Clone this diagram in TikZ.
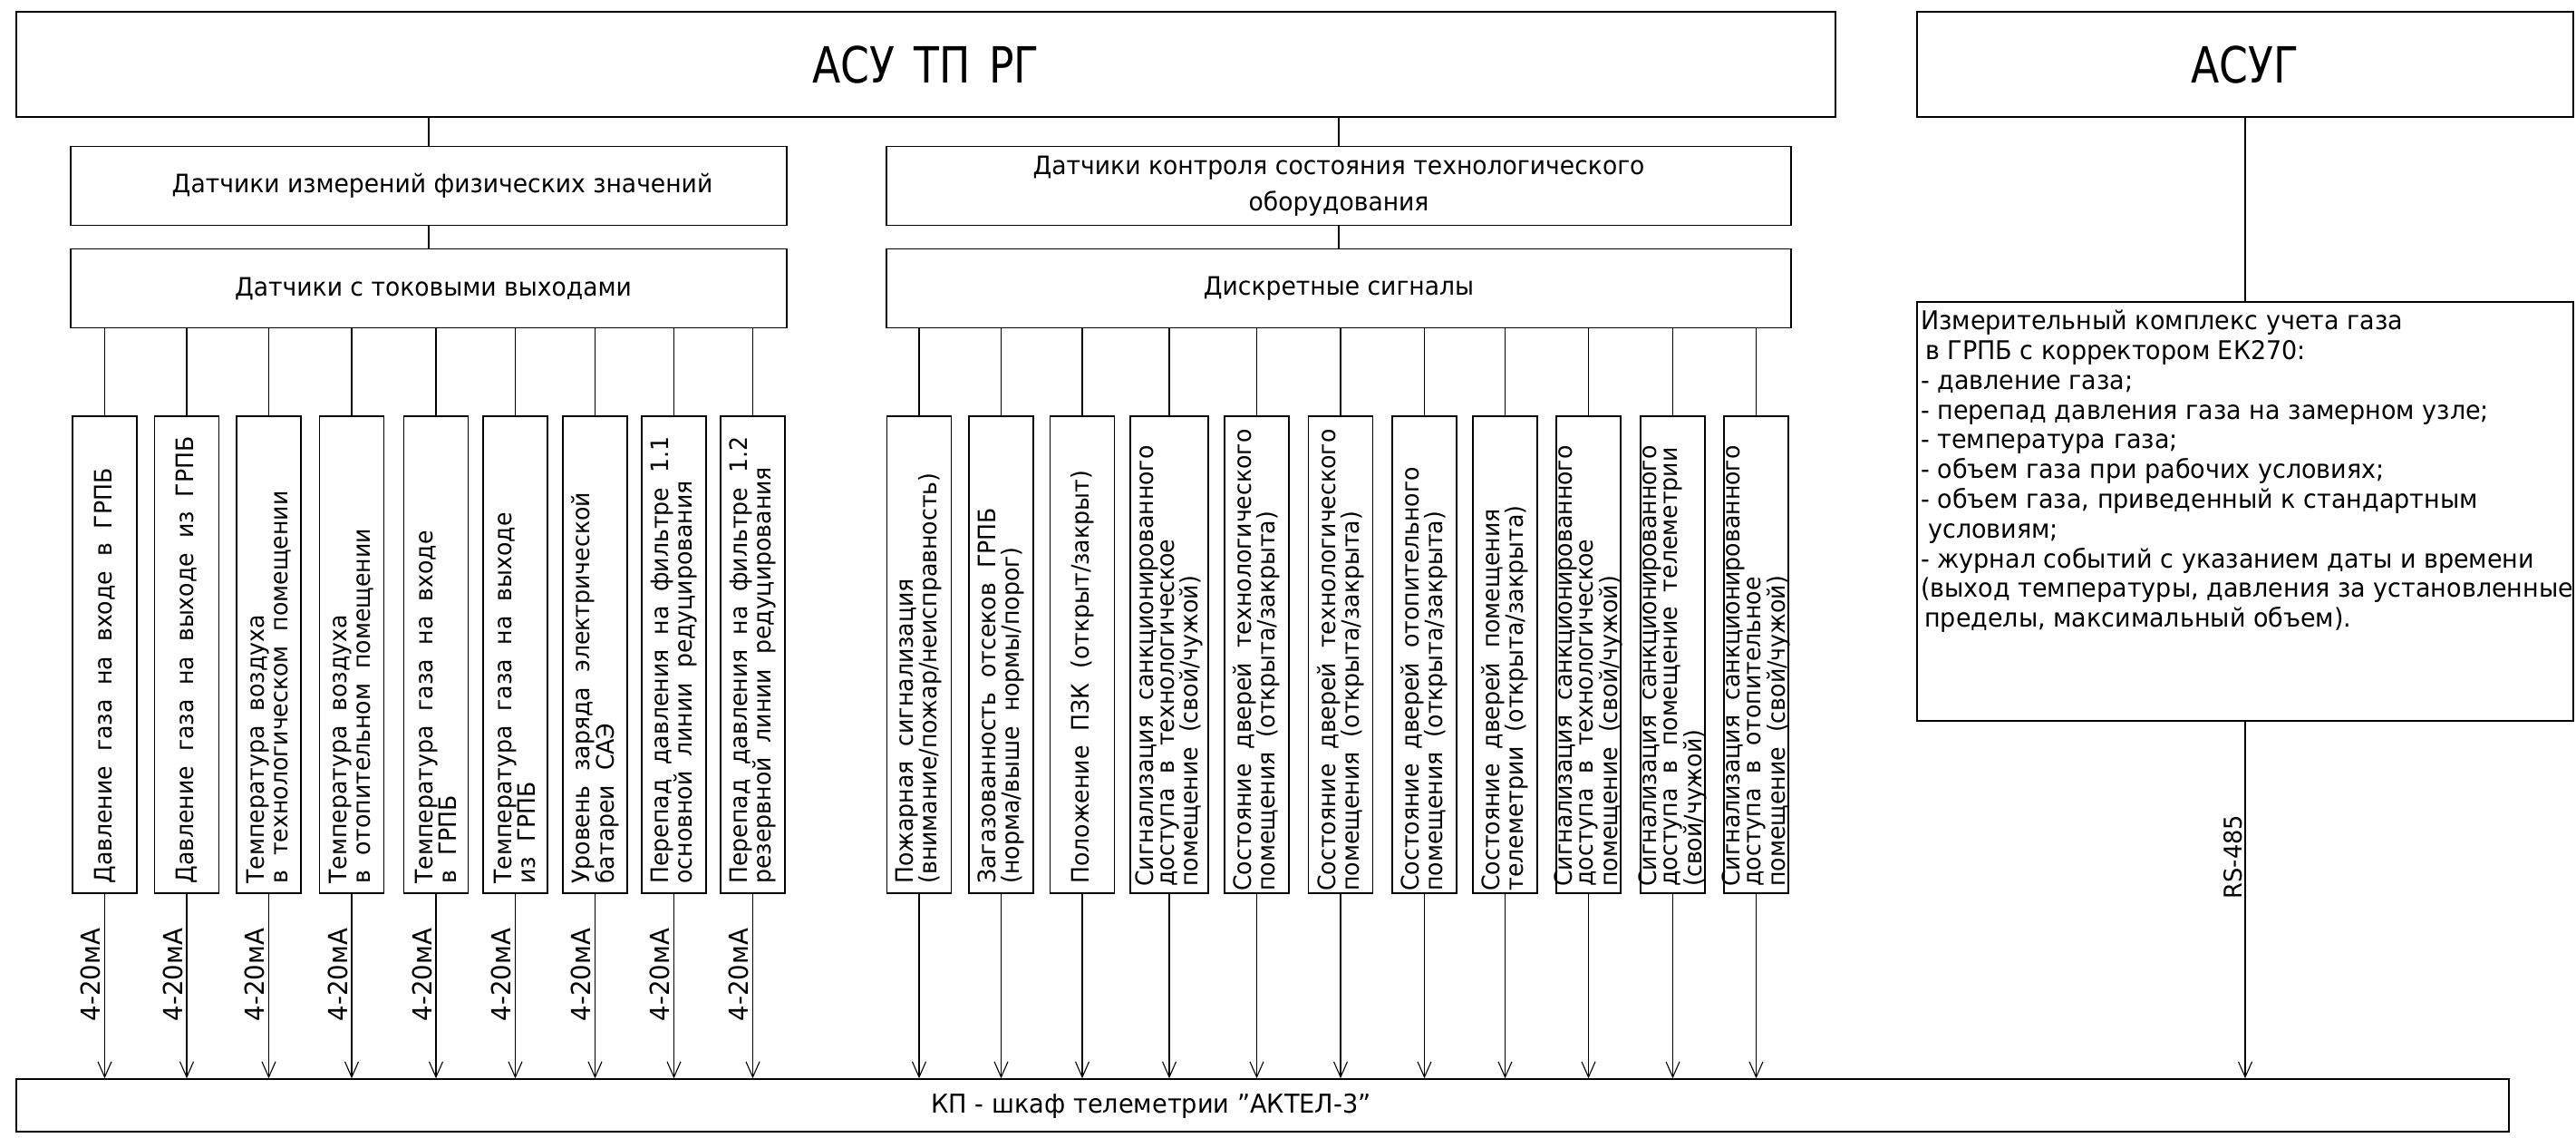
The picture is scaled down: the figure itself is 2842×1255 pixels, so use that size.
\documentclass[tikz,border=0pt]{standalone}
\usepackage{fontspec}
\setmainfont{DejaVu Sans}[FakeStretch=0.95]
\newfontfamily\capsfont{DejaVu Sans}[FakeStretch=0.83]
\usepackage{tikz}
\usetikzlibrary{
    positioning,
    arrows.meta,
    calc,
}
\newcommand{\widespaces}{\spaceskip 0.6em\relax}
\tikzset{
    % Box styles
    box/.style={rectangle, draw, line width=1.6pt, inner sep=0pt, align=center},
    head box/.style={box, minimum height=116pt, font={\capsfont\fontsize{55}{60}\selectfont\spaceskip 0.38em\relax}},
    group box/.style={box, minimum height=87pt, font=\fontsize{28}{40}\selectfont},
    % Text styles
    sensor text/.style={rotate=90, anchor=west, align=left, inner sep=0pt,
                        font={\fontsize{26.5}{26}\selectfont\widespaces}},
    tight/.style={font={\fontsize{26.5}{23}\selectfont\widespaces}},
    signal/.style={rotate=90, anchor=base, inner sep=0pt, font=\fontsize{29}{29}\selectfont},
    % Arrow styles
    link/.style={line width=1.1pt},
    arrow/.style={link, -{Straight Barb[length=17pt, width=15pt]}},
}

\begin{document}
\begin{tikzpicture}[x=1pt, y=-1pt,
    sensor/.style={box, minimum width=71pt, minimum height=526pt},
]
    \useasboundingbox (0,0) rectangle (2842,1255);

    % top level
    \node[head box, minimum width=2007pt] (asutp) at (1021.5,71) {АСУ ТП РГ};
    \node[head box, minimum width=724pt] (asug) at (2477,71) {АСУГ};

    % sensor groups
    \node[group box, minimum width=790pt] (meas) at (473,205) {\hspace*{30pt}Датчики измерений физических значений};
    \node[group box, minimum width=998pt] (ctrl) at (1477,205) {Датчики контроля состояния технологического\\оборудования};
    \node[group box, minimum width=790pt] (cur) at (473,318) {\hspace*{10pt}Датчики с токовыми выходами};
    \node[group box, minimum width=998pt] (disc) at (1477,318) {Дискретные сигналы};
    \draw[link] (meas.north) -- (meas.north |- asutp.south);
    \draw[link] (ctrl.north) -- (ctrl.north |- asutp.south);
    \draw[link] (meas) -- (cur);
    \draw[link] (ctrl) -- (disc);

    % KP
    \node[box, minimum width=2750pt, minimum height=58pt] (kp) at (1393,1219) {};
    \node[font=\fontsize{28.6}{28}\selectfont] (kptext) at (1270,1220) {КП - шкаф телеметрии \char34АКТЕЛ-3\char34};

    % current sensors
    \node[sensor] (c1) at (115.5,722) {};
    \node[sensor] (c2) at (206,722) {};
    \node[sensor] (c3) at (296.5,722) {};
    \node[sensor] (c4) at (388,722) {};
    \node[sensor] (c5) at (481,722) {};
    \node[sensor] (c6) at (568.5,722) {};
    \node[sensor] (c7) at (656.5,722) {};
    \node[sensor] (c8) at (743.5,722) {};
    \node[sensor] (c9) at (830.5,722) {};
    \node[sensor text] (c1t) at ($(c1.south)+(0,-11)$) {Давление газа на входе в ГРПБ};
    \node[sensor text] (c2t) at ($(c2.south)+(0,-11)$) {Давление газа на выходе из ГРПБ};
    \node[sensor text] (c3t) at ($(c3.south)+(0,-11)$) {Температура воздуха\\в технологическом помещении};
    \node[sensor text] (c4t) at ($(c4.south)+(0,-11)$) {Температура воздуха\\в отопительном помещении};
    \node[sensor text] (c5t) at ($(c5.south)+(0,-11)$) {Температура газа на входе\\в ГРПБ};
    \node[sensor text] (c6t) at ($(c6.south)+(0,-11)$) {Температура газа на выходе\\из ГРПБ};
    \node[sensor text] (c7t) at ($(c7.south)+(0,-11)$) {Уровень заряда электрической\\батареи САЭ};
    \node[sensor text] (c8t) at ($(c8.south)+(0,-11)$) {Перепад давления на фильтре 1.1\\основной линии редуцирования};
    \node[sensor text] (c9t) at ($(c9.south)+(0,-11)$) {Перепад давления на фильтре 1.2\\резервной линии редуцирования};

    \coordinate (mrow) at (0,1075);
    \foreach \i in {1,...,9} {
        \draw[link] (c\i.north) -- (c\i.north |- cur.south);
        \draw[arrow] (c\i.south) -- (c\i.south |- kp.north);
        \node[signal] (m\i) at ($(c\i.south |- mrow)+(-5,0)$) {4-20мА};
    }

    % discrete sensors
    \node[sensor] (d1) at (1014,722) {};
    \node[sensor] (d2) at (1104.5,722) {};
    \node[sensor] (d3) at (1194,722) {};
    \node[sensor, minimum width=86pt] (d4) at (1290,722) {};
    \node[sensor] (d5) at (1386.5,722) {};
    \node[sensor] (d6) at (1479,722) {};
    \node[sensor] (d7) at (1571.5,722) {};
    \node[sensor] (d8) at (1660.5,722) {};
    \node[sensor] (d9) at (1752.5,722) {};
    \node[sensor] (d10) at (1845.5,722) {};
    \node[sensor] (d11) at (1937.5,722) {};
    \node[sensor text] (d1t) at ($(d1.south)+(0,-11)$) {Пожарная сигнализация\\(внимание/пожар/неисправность)};
    \node[sensor text] (d2t) at ($(d2.south)+(0,-11)$) {Загазованность отсеков ГРПБ\\(норма/выше нормы/порог)};
    \node[sensor text] (d3t) at ($(d3.south)+(0,-11)$) {Положение ПЗК (открыт/закрыт)};
    \node[sensor text, tight] (d4t) at ($(d4.south)+(0,-8)$) {Сигнализация санкционированного\\доступа в технологическое\\помещение (свой/чужой)};
    \node[sensor text] (d5t) at ($(d5.south)+(0,-3)$) {Состояние дверей технологического\\помещения (открыта/закрыта)};
    \node[sensor text] (d6t) at ($(d6.south)+(0,-3)$) {Состояние дверей технологического\\помещения (открыта/закрыта)};
    \node[sensor text] (d7t) at ($(d7.south)+(0,-3)$) {Состояние дверей отопительного\\помещения (открыта/закрыта)};
    \node[sensor text] (d8t) at ($(d8.south)+(0,-3)$) {Состояние дверей помещения\\телеметрии (открыта/закрыта)};
    \node[sensor text, tight] (d9t) at ($(d9.south)+(0,-8)$) {Сигнализация санкционированного\\доступа в технологическое\\помещение (свой/чужой)};
    \node[sensor text, tight] (d10t) at ($(d10.south)+(0,-8)$) {Сигнализация санкционированного\\доступа в помещение телеметрии\\(свой/чужой)};
    \node[sensor text, tight] (d11t) at ($(d11.south)+(0,-8)$) {Сигнализация санкционированного\\доступа в отопительное\\помещение (свой/чужой)};

    \foreach \i in {1,...,11} {
        \draw[link] (d\i.north) -- (d\i.north |- disc.south);
        \draw[arrow] (d\i.south) -- (d\i.south |- kp.north);
    }

    % gas metering
    \node[box, minimum width=724pt, minimum height=462pt] (ikug) at (2477,564) {};
    \node[anchor=north west, align=left, inner sep=0pt, font=\fontsize{28.4}{32.8}\selectfont] (ikugtext) at (2119,342)
        {Измерительный комплекс учета газа\\
         \hspace*{5pt}в ГРПБ с корректором ЕК270:\\
         - давление газа;\\
         - перепад давления газа на замерном узле;\\
         - температура газа;\\
         - объем газа при рабочих условиях;\\
         - объем газа, приведенный к стандартным\\
         \hspace*{8pt}условиям;\\
         - журнал событий с указанием даты и времени\\
         (выход температуры, давления за установленные\\
         \hspace*{4pt}пределы, максимальный объем).};
    \draw[link] (asug) -- (ikug);
    \draw[arrow] (ikug.south) -- (ikug.south |- kp.north);
    \coordinate (rsrow) at (0,945);
    \node[signal, font=\fontsize{27}{27}\selectfont] (rs) at ($(ikug.south |- rsrow)+(-4,0)$) {RS-485};
\end{tikzpicture}
\end{document}
